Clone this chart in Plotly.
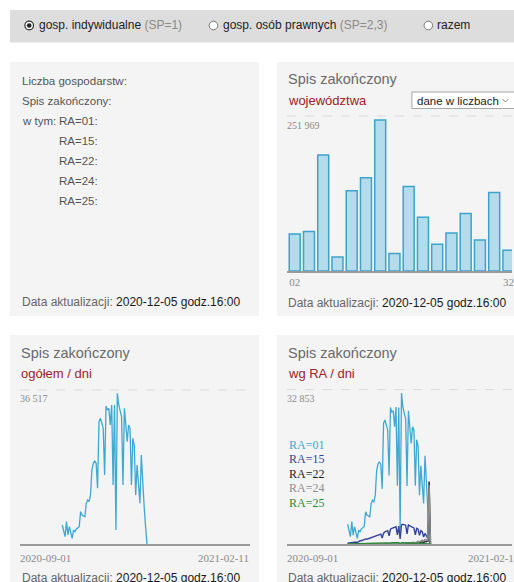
import plotly.graph_objects as go
import pandas as pd

W, H = 514, 582
OFF = 0  # body margin is removed by the post script below
SANS = "Liberation Sans, Arial, sans-serif"
SERIF = "Liberation Serif, Times New Roman, serif"

# ---------------- data ----------------
voiv_codes = ["02", "04", "06", "08", "10", "12", "14", "16",
              "18", "20", "22", "24", "26", "28", "30", "32"]
voiv_done = [61900, 65800, 193400, 23400, 133800, 155500, 251969, 29000,
             141000, 89800, 44600, 63600, 95900, 51800, 131000, 34500]

day_start, day_end = "2020-10-01", "2020-11-30"
axis_start_label, axis_end_label = "2020-09-01", "2021-02-11"
update_date = "2020-12-05 godz.16:00"

total_daily = [4600, 3000, 1780, 5410, 2180, 4200, 3000, 1370, 3390, 2990,
               3640, 4000, 4200, 7840, 7030, 6800, 6630, 9860, 10660, 10260,
               11880, 17940, 19550, 20120, 19550, 13490, 29650, 30460, 29250, 28030,
               16720, 33450, 32480, 32880, 28840, 33690, 14300, 33690, 3390, 36517,
               33690, 32480, 30860, 14300, 32880, 28840, 24800, 28840, 28030, 14300,
               25610, 23990, 11880, 19150, 14300, 9860, 21570, 14300, 9050, 4200,
               0]

ra01 = [4300, 2600, 1600, 4900, 1900, 3800, 2700, 1200, 3000, 2700,
        3300, 3600, 3800, 7000, 6300, 6100, 5900, 8800, 9500, 9100,
        10600, 16000, 17400, 17900, 17300, 12000, 26300, 27000, 25900, 24800,
        14900, 29700, 28700, 29000, 25500, 29800, 12700, 29700, 3000, 32853,
        29700, 28600, 27200, 12600, 29000, 25500, 21900, 25500, 24800, 12700,
        22700, 21300, 10600, 17000, 12800, 8800, 19200, 12700, 8000, 3700,
        0]
ra15 = [150, 200, 220, 280, 260, 350, 420, 300, 600, 700,
        720, 850, 1000, 1100, 1050, 1150, 1250, 1400, 1500, 1550,
        1650, 1800, 1900, 2000, 2150, 1300, 2350, 2650, 2800, 2900,
        1800, 3200, 3400, 3500, 3550, 3750, 2000, 3900, 1100, 4150,
        4300, 4200, 4100, 2200, 4150, 3950, 3800, 3700, 3500, 2000,
        3400, 3200, 1900, 2900, 2700, 1500, 2300, 1800, 1100, 500,
        0]
ra22 = [10, 10, 10, 20, 10, 20, 20, 10, 20, 20,
        20, 30, 30, 30, 30, 40, 40, 40, 50, 50,
        50, 60, 60, 60, 70, 40, 80, 80, 90, 90,
        50, 100, 100, 110, 110, 120, 60, 130, 30, 150,
        150, 160, 170, 90, 190, 200, 220, 240, 260, 150,
        300, 330, 200, 400, 450, 300, 600, 500, 700, 13600,
        0]
ra24 = [0, 0, 0, 10, 0, 10, 10, 0, 10, 10,
        10, 10, 20, 20, 20, 20, 20, 30, 30, 30,
        30, 40, 40, 40, 50, 30, 60, 60, 70, 70,
        40, 80, 90, 90, 100, 110, 60, 120, 30, 140,
        150, 170, 190, 100, 230, 260, 300, 350, 400, 250,
        500, 600, 450, 750, 850, 600, 1000, 900, 700, 12800,
        0]
ra25 = [20, 30, 20, 40, 30, 50, 40, 20, 60, 60,
        70, 80, 90, 110, 100, 110, 120, 140, 150, 150,
        160, 190, 200, 210, 210, 150, 240, 250, 250, 240,
        160, 260, 260, 260, 240, 260, 140, 260, 40, 270,
        260, 250, 240, 130, 240, 220, 200, 210, 200, 120,
        190, 180, 110, 160, 140, 90, 140, 100, 70, 40,
        0]

ra_names = ["RA=01", "RA=15", "RA=22", "RA=24", "RA=25"]
ra_colors = ["#3ea8d2", "#34449c", "#1e1e1e", "#8f8f8f", "#2f8a3a"]
ra_series = [ra01, ra15, ra22, ra24, ra25]

days = pd.date_range(day_start, day_end, freq="D")


def fmt(v):
    return f"{int(v):,}".replace(",", " ")


def PX(x):
    return (x - OFF) / W


def PY(y):
    return 1 - (y - OFF) / H


fig = go.Figure()

# bar chart (województwa)
fig.add_trace(go.Bar(
    x=voiv_codes, y=voiv_done, xaxis="x", yaxis="y",
    marker=dict(color="#b5dcea", line=dict(color="#3da3cc", width=1.5)),
    showlegend=False, hoverinfo="skip"))

# total by day
fig.add_trace(go.Scatter(
    x=days, y=total_daily, mode="lines", xaxis="x2", yaxis="y2",
    line=dict(color="#3ea8d2", width=1.3), showlegend=False, hoverinfo="skip"))

# by RA
for name, vals, col in zip(ra_names, ra_series, ra_colors):
    fig.add_trace(go.Scatter(
        x=days, y=vals, mode="lines", xaxis="x3", yaxis="y3", name=name,
        line=dict(color=col, width=1.4 if name != "RA=01" else 1.3),
        showlegend=False, hoverinfo="skip"))

bar_top = max(voiv_done) * 155 / 151
tot_top = max(total_daily) * 154 / 150.7
ra_max = max(max(s) for s in ra_series)
ra_top = ra_max * 154.5 / 151

axis_line = dict(showline=True, linecolor="#9a9a9a", linewidth=1.5,
                 showgrid=False, zeroline=False, fixedrange=True)

fig.update_layout(
    width=W, height=H, margin=dict(l=0, r=0, t=0, b=0),
    paper_bgcolor="white", plot_bgcolor="rgba(0,0,0,0)",
    bargap=0.23, hovermode=False,
    xaxis=dict(domain=[PX(288), 1], type="category", range=[-0.55, 15.25],
               tickvals=[voiv_codes[0], voiv_codes[-1]], ticks="",
               tickfont=dict(family=SERIF, size=11, color="#8a8a8a"),
               anchor="y", **axis_line),
    yaxis=dict(domain=[PY(271), PY(116)], range=[0, bar_top], visible=False,
               fixedrange=True),
    xaxis2=dict(domain=[PX(20), PX(251)], type="date",
                range=[axis_start_label, axis_end_label],
                showticklabels=False, ticks="", anchor="y2", **axis_line),
    yaxis2=dict(domain=[PY(544), PY(390)], range=[0, tot_top], visible=False,
                fixedrange=True),
    xaxis3=dict(domain=[PX(288), 1], type="date",
                range=["2020-08-18", "2021-01-28"],
                showticklabels=False, ticks="", anchor="y3", **axis_line),
    yaxis3=dict(domain=[PY(544), PY(389.5)], range=[0, ra_top], visible=False,
                fixedrange=True),
)

shapes = []


def rect(x0, y0, x1, y1, fill, line=None):
    shapes.append(dict(type="rect", xref="paper", yref="paper", layer="below",
                       x0=PX(x0), x1=PX(x1), y0=PY(y1), y1=PY(y0),
                       fillcolor=fill,
                       line=dict(width=0 if line is None else 1,
                                 color=line or fill)))


def hline(x0, x1, y, color="#dadada", dash="dash"):
    shapes.append(dict(type="line", xref="paper", yref="paper",
                       x0=PX(x0), x1=PX(x1), y0=PY(y), y1=PY(y),
                       line=dict(color=color, width=1, dash=dash)))


def circle(cx, cy, r, fill, line, lw=1):
    shapes.append(dict(type="circle", xref="paper", yref="paper",
                       xsizemode="pixel", ysizemode="pixel",
                       xanchor=PX(cx), yanchor=PY(cy),
                       x0=-r, x1=r, y0=-r, y1=r, fillcolor=fill,
                       line=dict(color=line, width=lw)))


# top bar and panels
rect(10, 10, 530, 42.5, "#dddddd")
rect(10, 62, 260, 316, "#f4f4f4")
rect(278, 62, 530, 316, "#f4f4f4")
rect(10, 335, 260, 600, "#f4f4f4")
rect(278, 335, 530, 600, "#f4f4f4")

# radio buttons
circle(29.3, 25.5, 4.3, "white", "#333333", 1.2)
circle(29.3, 25.5, 2.3, "#222222", "#222222", 0)
circle(214.3, 25.5, 4.3, "white", "#777777", 1)
circle(430, 25.5, 4.3, "white", "#777777", 1)

# dashed top gridlines
hline(288, 530, 116)
hline(20, 251, 390)
hline(288, 530, 389.5)

# dropdown
shapes.append(dict(type="rect", xref="paper", yref="paper",
                   x0=PX(413.5), x1=PX(535), y0=PY(108.5), y1=PY(92),
                   fillcolor="white", line=dict(color="#a8a8a8", width=1)))
shapes.append(dict(type="path", xref="paper", yref="paper",
                   path=f"M {PX(504.5)},{PY(99)} L {PX(507.5)},{PY(102)} L {PX(510.5)},{PY(99)}",
                   line=dict(color="#888888", width=1)))

fig.update_layout(shapes=shapes)


def txt(x, y, text, size=12, color="#555555", family=SANS, anchor="left"):
    fig.add_annotation(x=PX(x), y=PY(y), xref="paper", yref="paper",
                       text=text, showarrow=False, xanchor=anchor,
                       yanchor="middle", borderpad=0,
                       font=dict(size=size, color=color, family=family))


# top bar texts
txt(38, 25.5, "gosp. indywidualne <span style='color:#8a8a8a'>(SP=1)</span>",
    12, "#222222")
txt(222.5, 25.5, "gosp. osób prawnych <span style='color:#8a8a8a'>(SP=2,3)</span>",
    12, "#222222")
txt(438, 25.5, "razem", 12, "#222222")

# panel 1 texts
txt(21, 81.5, "Liczba gospodarstw:", 11.5)
txt(21, 100.5, "Spis zakończony:", 11.5)
txt(21, 120.5, "w tym:", 11.5)
for i, nm in enumerate(ra_names):
    txt(58, 120.5 + i * 20, nm + ":", 11.5)

upd = f"Data aktualizacji: <span style='color:#1a1a1a'>{update_date}</span>"
txt(21, 302, upd, 12, "#666666")
txt(288.5, 303, upd, 12, "#666666")
txt(21, 577.5, upd, 12, "#666666")
txt(288.5, 577.5, upd, 12, "#666666")

# panel 2 texts
txt(288.5, 79, "Spis zakończony", 14.5, "#6a6a6a")
txt(288.5, 100.5, "województwa", 13, "#9b2226")
txt(418, 100.5, "dane w liczbach", 11.5, "#222222")
txt(287.5, 125.5, fmt(max(voiv_done)), 10, "#8a8a8a", SERIF)

# panel 3 texts
txt(20.5, 352.5, "Spis zakończony", 14.5, "#6a6a6a")
txt(20.5, 373.5, "ogółem / dni", 13, "#9b2226")
txt(19.5, 398.5, fmt(max(total_daily)), 10, "#8a8a8a", SERIF)
txt(19.5, 557.5, axis_start_label, 11, "#8a8a8a", SERIF)
txt(251, 557.5, axis_end_label, 11, "#8a8a8a", SERIF, anchor="right")

# panel 4 texts
txt(288.5, 352.5, "Spis zakończony", 14.5, "#6a6a6a")
txt(288.5, 373.5, "wg RA / dni", 13, "#9b2226")
txt(287.5, 398.5, fmt(ra_max), 10, "#8a8a8a", SERIF)
txt(287.5, 557.5, axis_start_label, 11, "#8a8a8a", SERIF)
txt(522, 557.5, axis_end_label, 11, "#8a8a8a", SERIF, anchor="right")
for i, (nm, col) in enumerate(zip(ra_names, ra_colors)):
    txt(289.5, 444.5 + i * 14.5, nm, 12, col, SERIF)

fig.write_html("out.html",
               config={"displayModeBar": False},
               post_script="document.body.style.margin='0';"
                           "document.body.style.overflow='hidden';")
